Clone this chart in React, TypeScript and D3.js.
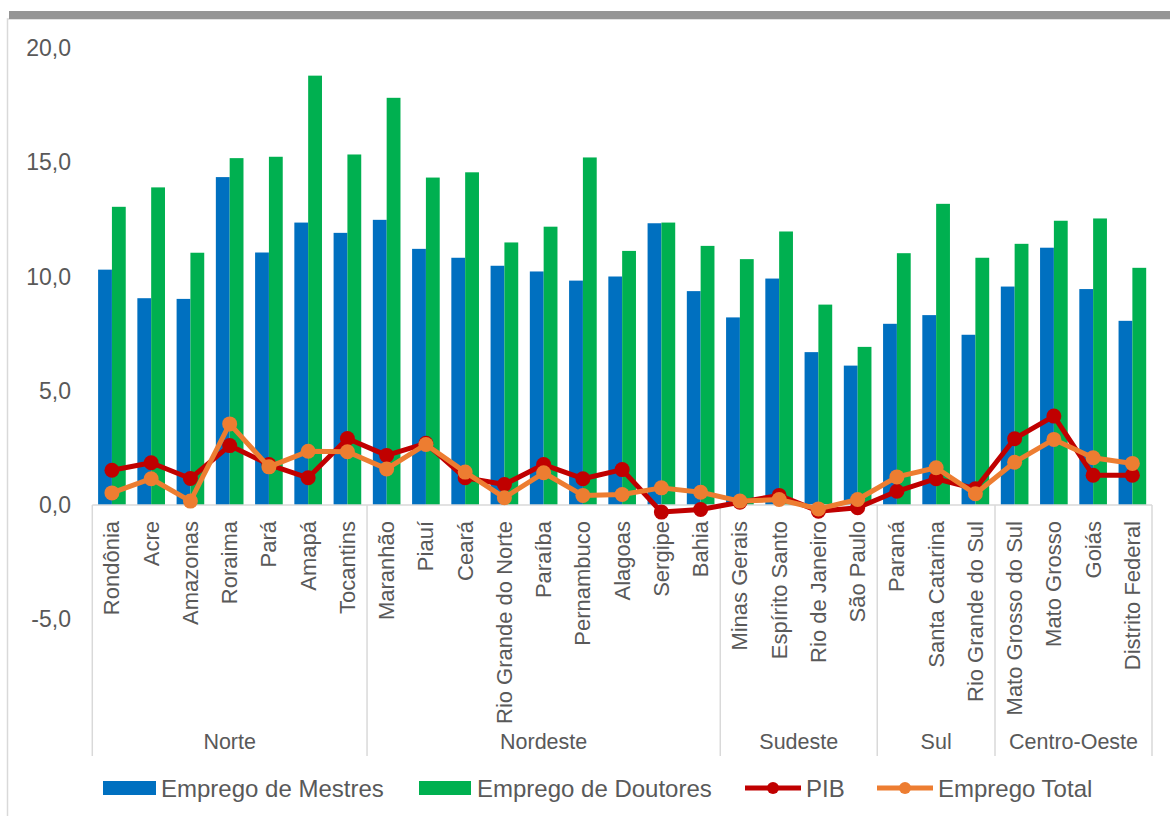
import React, { useEffect, useRef } from "react";
import * as d3 from "d3";

// states in the order of the chart, grouped by region
const states = [
  "Rondônia", "Acre", "Amazonas", "Roraima", "Pará", "Amapá", "Tocantins",
  "Maranhão", "Piauí", "Ceará", "Rio Grande do Norte", "Paraíba", "Pernambuco", "Alagoas", "Sergipe", "Bahia",
  "Minas Gerais", "Espírito Santo", "Rio de Janeiro", "São Paulo",
  "Paraná", "Santa Catarina", "Rio Grande do Sul",
  "Mato Grosso do Sul", "Mato Grosso", "Goiás", "Distrito Federal"
];

const regions = ["Norte", "Nordeste", "Sudeste", "Sul", "Centro-Oeste"];
const regionSizes = [7, 9, 4, 3, 4];

const mestres = [10.3, 9.05, 9.02, 14.35, 11.05, 12.36, 11.91, 12.48, 11.21, 10.82, 10.47, 10.22, 9.82, 10.0, 12.33, 9.36, 8.21, 9.91, 6.69, 6.1, 7.93, 8.31, 7.45, 9.56, 11.26, 9.45, 8.06];
const doutores = [13.05, 13.9, 11.04, 15.18, 15.24, 18.79, 15.34, 17.82, 14.33, 14.56, 11.49, 12.18, 15.21, 11.12, 12.36, 11.34, 10.76, 11.97, 8.77, 6.92, 11.02, 13.18, 10.82, 11.43, 12.44, 12.54, 10.38];
const pib = [1.52, 1.85, 1.16, 2.6, 1.77, 1.19, 2.91, 2.17, 2.7, 1.19, 0.9, 1.77, 1.15, 1.55, -0.31, -0.2, 0.12, 0.42, -0.27, -0.12, 0.6, 1.15, 0.71, 2.9, 3.89, 1.3, 1.3];
const empregoTotal = [0.53, 1.15, 0.17, 3.55, 1.67, 2.35, 2.33, 1.58, 2.65, 1.44, 0.32, 1.41, 0.42, 0.46, 0.75, 0.56, 0.17, 0.24, -0.17, 0.24, 1.23, 1.63, 0.49, 1.87, 2.87, 2.07, 1.82];

const yTicks = [-5, 0, 5, 10, 15, 20];

const BLUE = "#0070C0";
const GREEN = "#00B050";
const RED = "#C00000";
const ORANGE = "#ED7D31";
const TEXT = "#595959";
const LINE = "#D9D9D9";
const FONT = "Liberation Sans, Arial, sans-serif";

// excel style: "-5,0" with a plain hyphen and decimal comma
const fmt = (v: number) => v.toFixed(1).replace(".", ",");

export default function App() {
  const ref = useRef<SVGSVGElement>(null);

  useEffect(() => {
    const svg = d3.select(ref.current);
    svg.selectAll("*").remove();

    // chart frame
    svg.append("rect")
      .attr("x", 7.5).attr("y", 19)
      .attr("width", 1200).attr("height", 900)
      .attr("fill", "#fff").attr("stroke", LINE).attr("stroke-width", 1.5);
    svg.append("rect")
      .attr("x", 9).attr("y", 11).attr("width", 1170).attr("height", 8)
      .attr("fill", "#959595");

    const x = d3.scaleBand<string>().domain(states).range([92.3, 1152]).padding(0);
    const x1 = d3.scaleBand<string>().domain(["m", "d"]).range([0, x.bandwidth()])
      .paddingInner(0).paddingOuter(0.42);
    const y = d3.scaleLinear().domain([-10, 20]).range([733.5, 48]);
    const cx = (i: number) => (x(states[i]) as number) + x.bandwidth() / 2;

    // y tick labels
    svg.append("g").selectAll("text").data(yTicks).join("text")
      .attr("x", 71).attr("y", (d) => y(d))
      .attr("text-anchor", "end").attr("dominant-baseline", "central")
      .attr("font-family", FONT).attr("font-size", 23).attr("fill", TEXT)
      .text((d) => fmt(d));

    // bars
    const bars = svg.append("g");
    bars.selectAll(".m").data(mestres).join("rect")
      .attr("x", (d, i) => (x(states[i]) as number) + (x1("m") as number))
      .attr("y", (d) => y(d)).attr("width", x1.bandwidth())
      .attr("height", (d) => y(0) - y(d)).attr("fill", BLUE);
    bars.selectAll(".d").data(doutores).join("rect")
      .attr("x", (d, i) => (x(states[i]) as number) + (x1("d") as number))
      .attr("y", (d) => y(d)).attr("width", x1.bandwidth())
      .attr("height", (d) => y(0) - y(d)).attr("fill", GREEN);

    // category axis
    const axis = svg.append("g");
    axis.append("line")
      .attr("x1", 92.3).attr("x2", 1152).attr("y1", y(0)).attr("y2", y(0))
      .attr("stroke", LINE).attr("stroke-width", 1.5);
    let start = 0;
    const bounds = [0];
    regionSizes.forEach((n) => { start += n; bounds.push(start); });
    bounds.forEach((b) => {
      const bx = b < states.length ? (x(states[b]) as number) : 1152;
      axis.append("line")
        .attr("x1", bx).attr("x2", bx).attr("y1", y(0)).attr("y2", 756)
        .attr("stroke", LINE).attr("stroke-width", 1.5);
    });
    axis.selectAll(".cat").data(states).join("text")
      .attr("transform", (d, i) => `translate(${cx(i)},521) rotate(-90)`)
      .attr("text-anchor", "end").attr("dominant-baseline", "central")
      .attr("font-family", FONT).attr("font-size", 22).attr("fill", TEXT)
      .text((d) => d);
    regions.forEach((r, k) => {
      const a = x(states[bounds[k]]) as number;
      const b = bounds[k + 1] < states.length ? (x(states[bounds[k + 1]]) as number) : 1152;
      axis.append("text")
        .attr("x", (a + b) / 2).attr("y", 742)
        .attr("text-anchor", "middle").attr("dominant-baseline", "central")
        .attr("font-family", FONT).attr("font-size", 21.5).attr("fill", TEXT)
        .text(r);
    });

    // lines
    const line = d3.line<number>().x((d, i) => cx(i)).y((d) => y(d));
    [[pib, RED], [empregoTotal, ORANGE]].forEach(([vals, color]) => {
      const g = svg.append("g");
      g.append("path").datum(vals as number[])
        .attr("d", line).attr("fill", "none")
        .attr("stroke", color as string).attr("stroke-width", 5)
        .attr("stroke-linejoin", "round");
      g.selectAll("circle").data(vals as number[]).join("circle")
        .attr("cx", (d, i) => cx(i)).attr("cy", (d) => y(d)).attr("r", 7.5)
        .attr("fill", color as string);
    });

    // legend
    const lg = svg.append("g").attr("font-family", FONT).attr("font-size", 24).attr("fill", TEXT);
    const ly = 788;
    lg.append("rect").attr("x", 103).attr("y", 781).attr("width", 53).attr("height", 14).attr("fill", BLUE);
    lg.append("text").attr("x", 161).attr("y", ly).attr("dominant-baseline", "central").text("Emprego de Mestres");
    lg.append("rect").attr("x", 419).attr("y", 781).attr("width", 52).attr("height", 14).attr("fill", GREEN);
    lg.append("text").attr("x", 477).attr("y", ly).attr("dominant-baseline", "central").text("Emprego de Doutores");
    [[745, RED, "PIB"], [877, ORANGE, "Emprego Total"]].forEach(([lx, color, label]) => {
      const l = lx as number;
      lg.append("line").attr("x1", l).attr("x2", l + 56).attr("y1", ly).attr("y2", ly)
        .attr("stroke", color as string).attr("stroke-width", 5);
      lg.append("circle").attr("cx", l + 28).attr("cy", ly).attr("r", 6).attr("fill", color as string);
      lg.append("text").attr("x", l + 61).attr("y", ly).attr("dominant-baseline", "central").text(label as string);
    });
  }, []);

  return (
    <svg ref={ref} width={1170} height={816}
      style={{ position: "absolute", left: 0, top: 0, background: "#fff" }} />
  );
}
